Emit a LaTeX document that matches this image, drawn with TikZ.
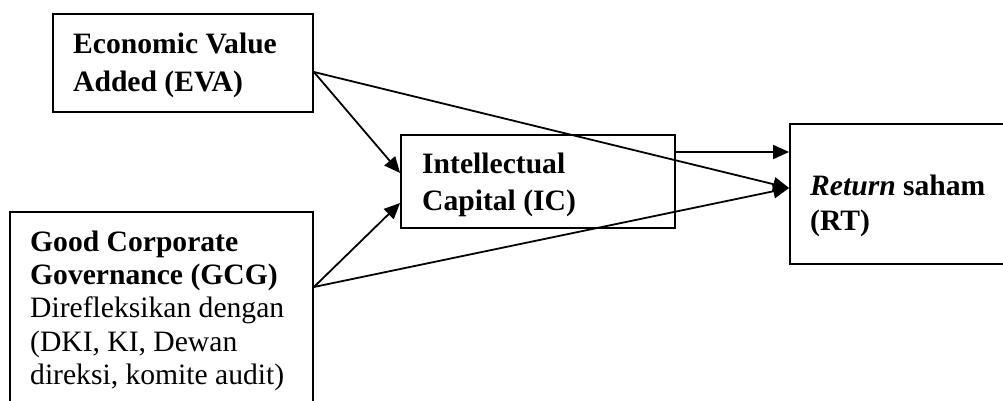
\documentclass[tikz,border=0pt]{standalone}
\usepackage{fontspec}
\setmainfont{Liberation Serif}
\usetikzlibrary{arrows.meta,calc}
\begin{document}
\begin{tikzpicture}[x=1pt,y=-1pt,
  box/.style={draw,line width=1.8pt,rectangle,inner sep=0pt},
  txt/.style={anchor=north west,inner sep=0pt,align=left},
  conn/.style={line width=1.8pt,-{Triangle[length=16pt,width=14pt]}}]
\useasboundingbox (0,0) rectangle (1003,401);
\clip (0,0) rectangle (1003,401);
\node[box,minimum width=260pt,minimum height=98pt] (eva) at (183,63) {};
\node[box,minimum width=303pt,minimum height=208pt] (gcg) at (161.5,316) {};
\node[box,minimum width=274pt,minimum height=93pt] (ic) at (538,181.5) {};
\node[box,minimum width=220pt,minimum height=140pt] (rt) at (900,194) {};
\node[txt,font=\bfseries\fontsize{29.6}{38}\selectfont] (evat) at (73,32.5) {Economic Value\\Added (EVA)};
\node[txt,font=\fontsize{29.6}{33.3}\selectfont] (gcgt) at (30,230.5) {\textbf{Good Corporate}\\\textbf{Governance (GCG)}\\Direfleksikan dengan\\(DKI, KI, Dewan\\direksi, komite audit)};
\node[txt,font=\bfseries\fontsize{29.6}{37}\selectfont] (ict) at (422,152.5) {Intellectual\\Capital (IC)};
\node[txt,font=\bfseries\fontsize{29.6}{35}\selectfont] (rtt) at (810,174.5) {\textit{Return} saham\\(RT)};
\draw[conn] ($(eva.east)+(0,9)$) -- ($(ic.west)+(0,-8.5)$);
\draw[conn] ($(eva.east)+(0,9)$) -- ($(rt.west)+(0,-6)$);
\draw[conn] ($(gcg.east)+(0,-29)$) -- ($(ic.west)+(0,21.5)$);
\draw[conn] ($(gcg.east)+(0,-29)$) -- ($(rt.west)+(0,-6)$);
\draw[conn] ($(ic.east)+(0,-29.5)$) -- ($(rt.west)+(0,-42)$);
\end{tikzpicture}
\end{document}
